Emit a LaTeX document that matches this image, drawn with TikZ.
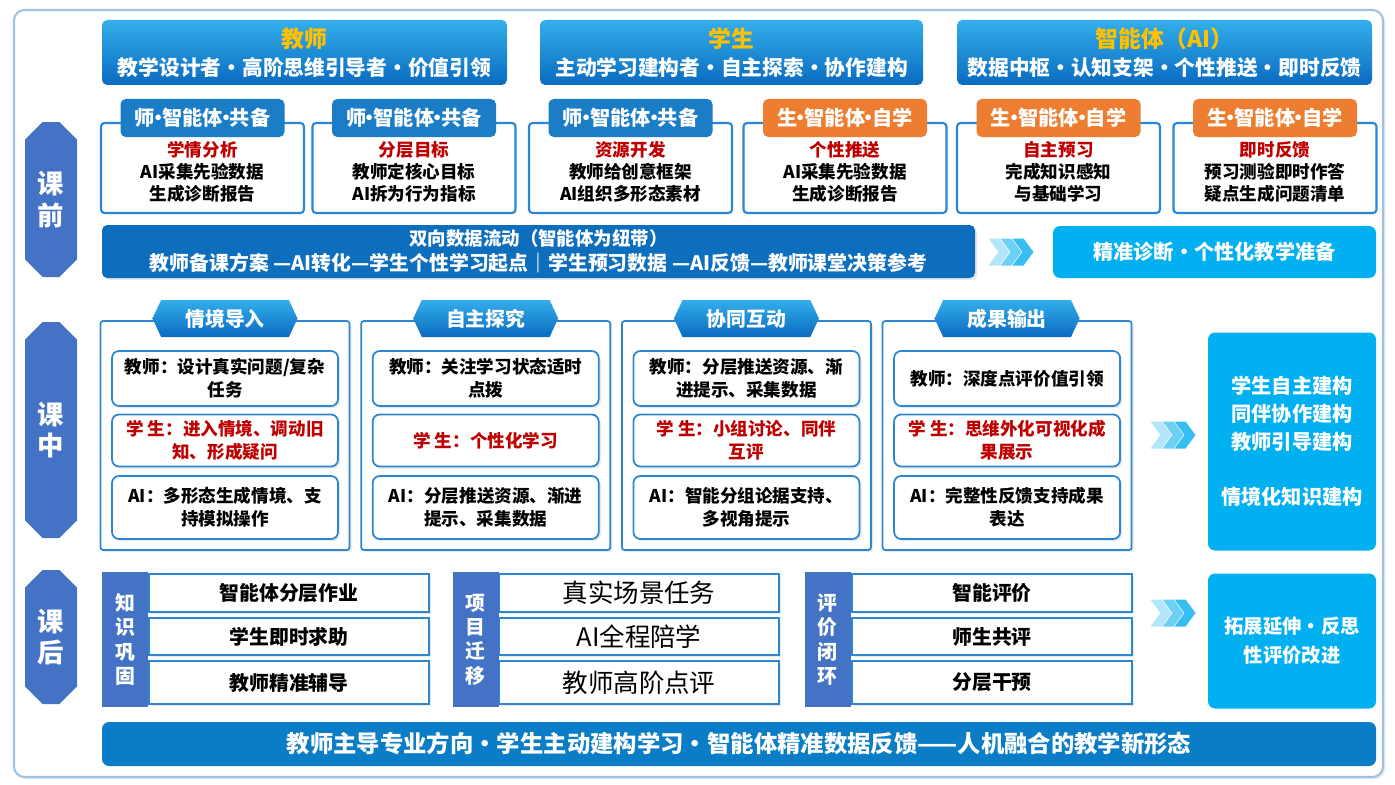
\documentclass[tikz,border=0pt]{standalone}
\usepackage{fontspec}
\setmainfont{Noto Sans CJK SC}
\usetikzlibrary{calc,positioning,shapes.misc,shapes.symbols,shadows}

\newcommand\pxl{0.02cm}
\newcommand\middot{\kern-.32em·\kern-.32em}
\definecolor{phaseblue}{HTML}{4472C4}
\definecolor{headtop}{HTML}{33AEEB}
\definecolor{headbot}{HTML}{0A6BC0}
\definecolor{tabblue}{HTML}{1A7DC6}
\definecolor{taborange}{HTML}{ED7D31}
\definecolor{boxline}{HTML}{2C87D3}
\definecolor{flowblue}{HTML}{0D6EBE}
\definecolor{barblue}{HTML}{0B7DC6}
\definecolor{cyanbox}{HTML}{00B0F0}
\definecolor{redtxt}{HTML}{C00000}
\definecolor{titleyel}{HTML}{FFC000}
\definecolor{framelight}{HTML}{9CC3E5}
\definecolor{chevA}{HTML}{B3E6FA}
\definecolor{chevB}{HTML}{6DD0F5}
\definecolor{chevC}{HTML}{36BEF2}

\tikzset{
  softshadow/.style={drop shadow={shadow xshift=1.2pt,shadow yshift=-1.2pt,opacity=0.18,fill=gray}},
  phase/.style={chamfered rectangle, chamfered rectangle sep=5pt, fill=phaseblue, text=white,
    minimum width=52*\pxl, inner sep=0pt, align=center, font=\bfseries\fontsize{15pt}{18pt}\selectfont},
  head/.style={rectangle, rounded corners=3pt, top color=headtop, bottom color=headbot, text=white,
    minimum height=65*\pxl, align=center, font=\bfseries\fontsize{11.8pt}{15.9pt}\selectfont},
  prebox/.style={draw=boxline, line width=1.2pt, rounded corners=2pt, fill=white,
    minimum width=203*\pxl, minimum height=90*\pxl},
  pretab/.style={rounded corners=3pt, text=white, minimum width=164*\pxl, minimum height=38*\pxl,
    inner sep=0pt, font=\bfseries\fontsize{11.5pt}{14pt}\selectfont},
  pretext/.style={align=center, inner sep=0pt, font=\bfseries\fontsize{10pt}{12.5pt}\selectfont},
  flowbar/.style={fill=flowblue, rounded corners=3pt, text=white, softshadow, align=center,
    minimum width=873*\pxl, minimum height=53*\pxl, inner sep=0pt,
    font=\bfseries\fontsize{10.5pt}{14.2pt}\selectfont},
  cyanbox/.style={fill=cyanbox, rounded corners=4pt, text=white, align=center, inner sep=0pt,
    minimum width=168*\pxl, font=\bfseries\fontsize{11.5pt}{15.9pt}\selectfont},
  panel/.style={draw=boxline, line width=1pt, fill=white, rounded corners=1.5pt, softshadow,
    minimum width=249*\pxl, minimum height=229*\pxl},
  hextab/.style={signal, signal to=east and west, signal pointer angle=130,
    top color=headtop, bottom color=headbot, text=white, inner sep=0pt,
    minimum width=145*\pxl, minimum height=37*\pxl, font=\bfseries\fontsize{11.3pt}{14pt}\selectfont},
  midbox/.style={draw=boxline, line width=1pt, fill=white, rounded corners=4pt, softshadow,
    minimum width=226*\pxl, align=center, inner sep=0pt, font=\bfseries\fontsize{10pt}{13pt}\selectfont},
  poststrip/.style={fill=phaseblue, text=white, minimum width=46*\pxl, minimum height=135*\pxl,
    inner sep=0pt, align=center, font=\bfseries\fontsize{11.3pt}{13.9pt}\selectfont},
  postitem/.style={draw=boxline, line width=1pt, fill=white, softshadow, inner sep=0pt},
  postbold/.style={font=\bfseries\fontsize{11.3pt}{14pt}\selectfont},
  postlight/.style={font=\fontsize{14.5pt}{17pt}\selectfont},
}

\begin{document}
\begin{tikzpicture}[x=0.02cm,y=-0.02cm]
  \useasboundingbox (0,0) rectangle (1395,784);

  \node [draw=framelight, line width=1.2pt, rounded corners=6pt, fill=white, softshadow,
    minimum width=1369*\pxl, minimum height=767*\pxl] at (698.5,393.5) (frame) {};

  % phases
  \foreach \y/\h/\txt [count=\n] in {199.5/155/{课\\前}, 430/216/{课\\中}, 637/134/{课\\后}}
    \node [phase, minimum height=\h*\pxl] at (51,\y) (phase_\n) {\txt};

  % roles
  \foreach \cx/\w/\ttl/\sub [count=\n] in {
    304.5/405/教师/{教学设计者·高阶思维引导者·价值引领},
    731.5/383/学生/{主动学习建构者·自主探索·协作建构},
    1164.5/415/{智能体（AI）}/{数据中枢·认知支架·个性推送·即时反馈}}
    \node [head, minimum width=\w*\pxl] at (\cx,52.5) (head_\n)
      {{\color{titleyel}\fontsize{13pt}{16pt}\selectfont\ttl}\\\sub};

  % before class
  \foreach \cx/\tabcol/\tabtxt/\ttl/\body [count=\n] in {
    202.5/tabblue/{师\middot 智能体\middot 共备}/学情分析/{AI采集先验数据\\生成诊断报告},
    414/tabblue/{师\middot 智能体\middot 共备}/分层目标/{教师定核心目标\\AI拆为行为指标},
    630.5/tabblue/{师\middot 智能体\middot 共备}/资源开发/{教师给创意框架\\AI组织多形态素材},
    845/taborange/{生\middot 智能体\middot 自学}/个性推送/{AI采集先验数据\\生成诊断报告},
    1058.5/taborange/{生\middot 智能体\middot 自学}/自主预习/{完成知识感知\\与基础学习},
    1275/taborange/{生\middot 智能体\middot 自学}/即时反馈/{预习测验即时作答\\疑点生成问题清单}}
  {
    \node [prebox] at (\cx,168) (pre_\n) {};
    \node [pretab, fill=\tabcol] at (\cx,118) (pre_tab_\n) {\tabtxt};
    \node [pretext] at (\cx,172) (pre_text_\n) {{\color{redtxt}\ttl}\\\body};
  }

  \node [flowbar] at (538.5,251.5) (flow)
    {双向数据流动（智能体为纽带）\\{\fontsize{11.3pt}{14.2pt}\selectfont 教师备课方案 —AI转化—学生个性学习起点｜学生预习数据 —AI反馈—教师课堂决策参考}};
  \node [cyanbox, minimum width=323*\pxl, minimum height=52*\pxl] at (1214.5,252) (pre_result)
    {精准诊断·个性化教学准备};

  % in class
  \foreach \tabtxt/\ta/\tb/\tc [count=\n] in {
    情境导入/{教师：设计真实问题/复杂\\任务}/{学 生：进入情境、调动旧\\知、形成疑问}/{AI：多形态生成情境、支\\持模拟操作},
    自主探究/{教师：关注学习状态适时\\点拨}/{学 生：个性化学习}/{AI：分层推送资源、渐进\\提示、采集数据},
    协同互动/{教师：分层推送资源、渐\\进提示、采集数据}/{学 生：小组讨论、同伴\\互评}/{AI：智能分组论据支持、\\多视角提示},
    成果输出/{教师：深度点评价值引领}/{学 生：思维外化可视化成\\果展示}/{AI：完整性反馈支持成果\\表达}}
  {
    \pgfmathsetmacro\cx{225+260.7*(\n-1)}
    \node [panel] at (\cx,435.5) (mid_\n) {};
    \node [hextab] at (\cx,318.5) (mid_tab_\n) {\tabtxt};
    \node [midbox, minimum height=55*\pxl] at (\cx,378.5) (mid_\n_t) {\ta};
    \node [midbox, minimum height=52*\pxl, text=redtxt] at (\cx,440.5) (mid_\n_s) {\tb};
    \node [midbox, minimum height=63*\pxl] at (\cx,507.5) (mid_\n_a) {\tc};
  }

  \node [cyanbox, minimum height=218*\pxl] at (1292,441.5) (mid_result)
    {学生自主建构\\同伴协作建构\\教师引导建构\\[27*\pxl]情境化知识建构};

  % after class
  \foreach \sx/\ix/\lbl/\ia/\ib/\ic/\ifont [count=\n] in {
    125/289/{知\\识\\巩\\固}/智能体分层作业/学生即时求助/教师精准辅导/postbold,
    475.5/639/{项\\目\\迁\\移}/真实场景任务/AI全程陪学/教师高阶点评/postlight,
    827.5/992/{评\\价\\闭\\环}/智能评价/师生共评/分层干预/postbold}
  {
    \node [postitem, \ifont, minimum width=280*\pxl, minimum height=38*\pxl] at (\ix,593) (post_\n_a) {\ia};
    \node [postitem, \ifont, minimum width=280*\pxl, minimum height=37*\pxl] at (\ix,636.5) (post_\n_b) {\ib};
    \node [postitem, \ifont, minimum width=280*\pxl, minimum height=43*\pxl] at (\ix,682.5) (post_\n_c) {\ic};
    \node [poststrip] at (\sx,639.5) (post_\n) {\lbl};
  }

  \node [cyanbox, minimum height=135*\pxl, font=\bfseries\fontsize{11pt}{16.4pt}\selectfont]
    at (1292,641) (post_result) {拓展延伸·反思\\性评价改进};

  \node [fill=barblue, rounded corners=4pt, text=white, minimum width=1274*\pxl, minimum height=44*\pxl,
    inner sep=0pt, font=\bfseries\fontsize{13.3pt}{16pt}\selectfont] at (739,744) (summary)
    {教师主导专业方向·学生主动建构学习·智能体精准数据反馈——人机融合的教学新形态};

  % chevrons
  \coordinate (chev_1) at (1011,252);
  \coordinate (chev_2) at (1173,435);
  \coordinate (chev_3) at (1173,613);
  \foreach \k in {1,2,3}
    \foreach \i/\c in {0/chevA,1/chevB,2/chevC}
      \fill [\c] ($(chev_\k)+(\i*12-22.5,-13.5)$) -- ++(11,0) -- ++(10,13.5) -- ++(-10,13.5)
        -- ++(-11,0) -- ++(10,-13.5) -- cycle;

\end{tikzpicture}
\end{document}
